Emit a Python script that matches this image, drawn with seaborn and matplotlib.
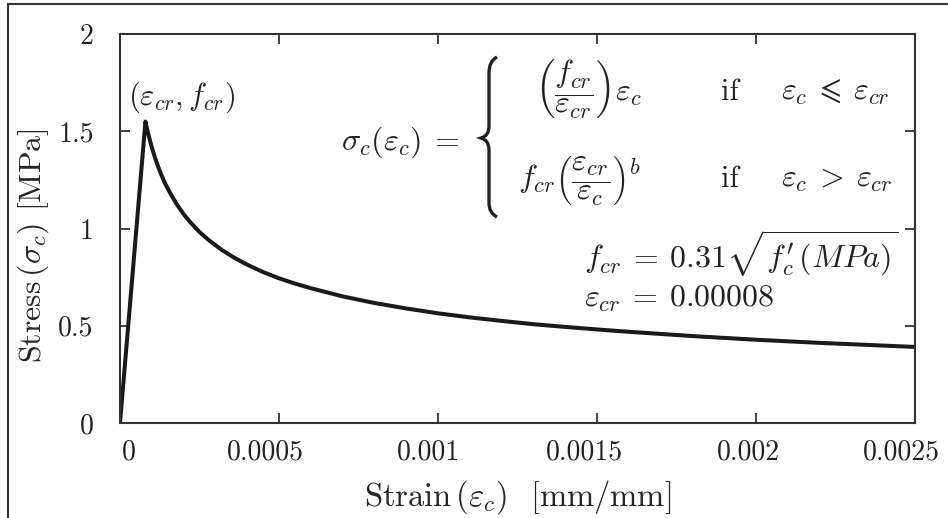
import matplotlib
matplotlib.use("Agg")
import matplotlib.pyplot as plt
import seaborn as sns
import pandas as pd
from matplotlib.path import Path
from matplotlib.patches import PathPatch, Rectangle
from matplotlib.transforms import Affine2D, ScaledTranslation

# ---- data ----
strain = [0.0, 0.00008, 0.000085, 0.00009, 0.000095, 0.0001, 0.00011, 0.00012,
          0.00013, 0.00014, 0.00016, 0.00018, 0.0002, 0.00022, 0.00025, 0.00028,
          0.00032, 0.00036, 0.0004, 0.00045, 0.0005, 0.00055, 0.0006, 0.0007,
          0.0008, 0.0009, 0.001, 0.0011, 0.0012, 0.0013, 0.0014, 0.0015,
          0.0016, 0.0018, 0.002, 0.0022, 0.0025]
stress = [0.0, 1.55, 1.513, 1.479, 1.448, 1.418, 1.364, 1.318,
          1.276, 1.238, 1.175, 1.121, 1.074, 1.034, 0.982, 0.939,
          0.890, 0.849, 0.814, 0.776, 0.744, 0.717, 0.693, 0.651,
          0.617, 0.589, 0.564, 0.543, 0.525, 0.508, 0.494, 0.481,
          0.469, 0.447, 0.428, 0.412, 0.391]
xticks = [0, 0.0005, 0.001, 0.0015, 0.002, 0.0025]
xticklabels = ["0", "0.0005", "0.001", "0.0015", "0.002", "0.0025"]
yticks = [0, 0.5, 1, 1.5, 2]
yticklabels = ["0", "0.5", "1", "1.5", "2"]

sns.set_style("ticks")
plt.rcParams["font.family"] = ["serif"]
plt.rcParams["font.serif"] = ["cmr10", "DejaVu Serif"]
plt.rcParams["mathtext.fontset"] = "cm"
plt.rcParams["axes.formatter.use_mathtext"] = True

W, H = 948, 518
fig = plt.figure(figsize=(W / 100, H / 100), dpi=100)
ax = fig.add_axes([120 / W, 1 - 423 / H, (915 - 120) / W, (423 - 34) / H])

df = pd.DataFrame({"strain": strain, "stress": stress})
sns.lineplot(data=df, x="strain", y="stress", ax=ax, color="#1a1a1a",
             linewidth=2.9, sort=False, estimator=None)

ax.set_xlim(0, 0.0025)
ax.set_ylim(0, 2)
ax.set_xticks(xticks)
ax.set_xticklabels(xticklabels)
ax.set_yticks(yticks)
ax.set_yticklabels(yticklabels)
ax.tick_params(direction="in", length=7, width=1.2, top=True, right=True,
               labelsize=20, colors="#222222", pad=12)
ax.tick_params(axis="y", pad=19)
for s in ax.spines.values():
    s.set_visible(True)
    s.set_linewidth(1.5)
    s.set_color("#333333")

# reference places the x tick labels slightly off the ticks
x_label_shift_px = [9, -14, -9, -13, -8, -14]
for lab, dx in zip(ax.get_xticklabels(), x_label_shift_px):
    lab.set_transform(lab.get_transform() +
                      ScaledTranslation(dx / 100, 0, fig.dpi_scale_trans))

ax.set_xlabel(r"Strain$\,(\varepsilon_c)$  [mm/mm]", fontsize=23.5, labelpad=9)
ax.set_ylabel(r"Stress$\,(\sigma_c)$ [MPa]", fontsize=23)
ax.yaxis.set_label_coords((51 - 120) / 795, (423 - 246) / 389)


def px(x, y):
    return x / W, 1 - y / H


tc = "#222222"
fs = 23
fig.text(*px(128, 105), r"$(\varepsilon_{cr},f_{cr})$", fontsize=22,
         ha="left", va="baseline", color=tc)
fig.text(*px(341, 150), r"$\sigma_c(\varepsilon_c)\:=$", fontsize=fs,
         ha="left", va="baseline", color=tc)
fig.text(*px(535, 100), r"$\left(\dfrac{f_{cr}}{\varepsilon_{cr}}\right)\varepsilon_c$",
         fontsize=fs, ha="left", va="baseline", color=tc)
fig.text(*px(518, 187), r"$f_{cr}\left(\dfrac{\varepsilon_{cr}}{\varepsilon_c}\right)^b$",
         fontsize=fs, ha="left", va="baseline", color=tc)
fig.text(*px(730, 100), "if", fontsize=22, ha="center", va="baseline", color=tc)
fig.text(*px(730, 187), "if", fontsize=22, ha="center", va="baseline", color=tc)
fig.text(*px(781, 100), r"$\varepsilon_c\:\leqslant\:\varepsilon_{cr}$", fontsize=fs,
         ha="left", va="baseline", color=tc)
fig.text(*px(781, 187), r"$\varepsilon_c\:>\:\varepsilon_{cr}$", fontsize=fs,
         ha="left", va="baseline", color=tc)
fig.text(*px(584, 268), r"$f_{cr}\:=\:0.31\sqrt{f_c^{\prime}\,(MPa)}$", fontsize=fs,
         ha="left", va="baseline", color=tc)
fig.text(*px(584, 307), r"$\varepsilon_{cr}\:=\:0.00008$", fontsize=fs,
         ha="left", va="baseline", color=tc)

# curly brace
verts = [(497, 57), (489, 61), (489, 73),
         (489, 126), (489, 136), (481, 138),
         (489, 140), (489, 150), (489, 203),
         (489, 213), (497, 217)]
codes = [Path.MOVETO, Path.CURVE3, Path.CURVE3,
         Path.LINETO, Path.CURVE3, Path.CURVE3,
         Path.CURVE3, Path.CURVE3, Path.LINETO,
         Path.CURVE3, Path.CURVE3]
tr = Affine2D().scale(1 / W, -1 / H).translate(0, 1) + fig.transFigure
fig.patches.append(PathPatch(Path(verts, codes), fill=False, lw=2.4,
                             edgecolor=tc, transform=tr, figure=fig))

# outer frame (left/top visible)
fig.patches.append(Rectangle((8 / W, -0.1), 1.2, 1.1 - 4 / H, fill=False,
                             lw=1.5, edgecolor="#333333",
                             transform=fig.transFigure, figure=fig))

fig.savefig("out.png", dpi=100)
